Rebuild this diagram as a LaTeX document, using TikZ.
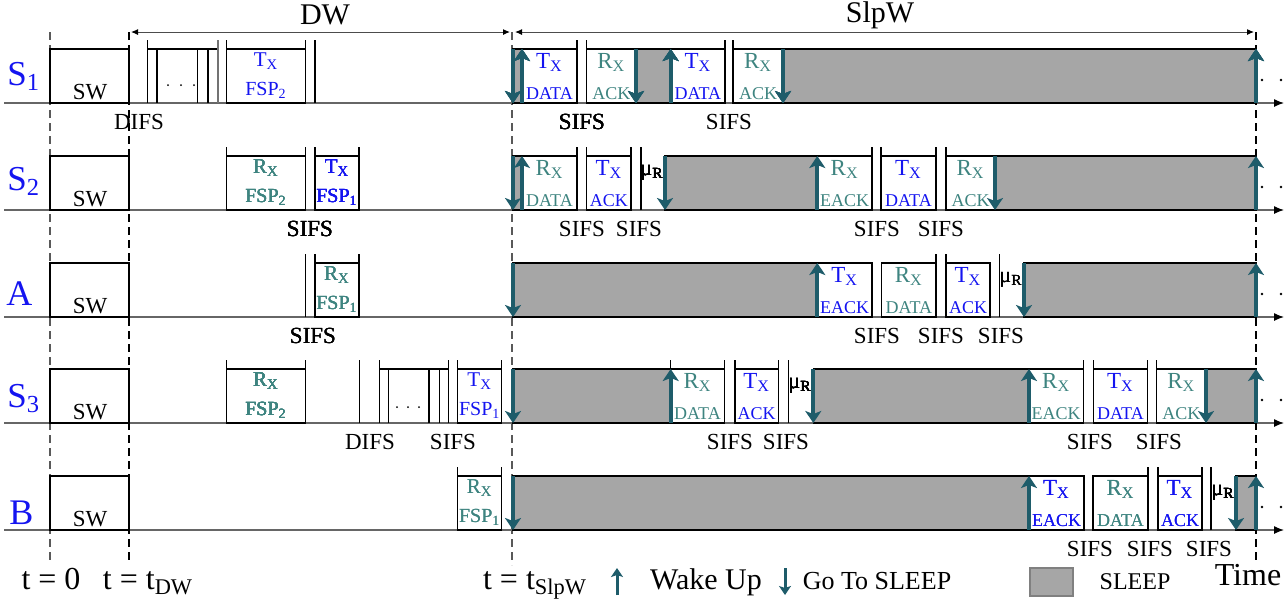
\documentclass[tikz,border=0pt]{standalone}
\usepackage{fontspec}
\setmainfont{Liberation Serif}
\usetikzlibrary{arrows.meta}

\definecolor{wakecol}{RGB}{30,92,106}
\definecolor{rxcol}{RGB}{62,132,128}
\definecolor{txcol}{RGB}{20,20,240}
\definecolor{slpcol}{RGB}{166,166,166}

\tikzset{
  box/.style={draw=black, line width=0.6pt},
  zzz/.style={fill=slpcol, draw=black, line width=0.6pt},
  tline/.style={draw=black, line width=0.6pt},
  axisline/.style={draw=black!60, line width=0.6pt, -{Latex[length=5pt,width=4pt,color=black]}},
  dimarr/.style={draw=black!70, line width=0.5pt, {Latex[length=3.5pt,width=3pt,color=black]}-{Latex[length=3.5pt,width=3pt,color=black]}},
  tmark/.style={dash pattern=on 4pt off 2.5pt, line width=0.6pt},
  wakeArr/.style={draw=wakecol, line width=2pt, -{Stealth[length=6pt,width=8pt,inset=1.5pt]}},
  legArr/.style={draw=wakecol, line width=1.5pt, -{Stealth[length=4.5pt,width=6pt,inset=1pt]}},
  rowlab/.style={text=txcol, font=\fontsize{17.5}{19}\selectfont, inner sep=0pt, anchor=base west},
  bigtxt/.style={font=\fontsize{15}{17}\selectfont, inner sep=0pt},
  swtxt/.style={font=\fontsize{11.5}{13}\selectfont, inner sep=0pt, anchor=base},
  lbl/.style={font=\fontsize{11.5}{13}\selectfont, inner sep=0pt, anchor=base},
  txtop/.style={text=txcol, font=\fontsize{11.5}{13}\selectfont, inner sep=0pt, anchor=base},
  rxtop/.style={text=rxcol, font=\fontsize{11.5}{13}\selectfont, inner sep=0pt, anchor=base},
  txbot/.style={text=txcol, font=\fontsize{9}{10}\selectfont, inner sep=0pt, anchor=base},
  rxbot/.style={text=rxcol, font=\fontsize{9}{10}\selectfont, inner sep=0pt, anchor=base},
  txfsp/.style={text=txcol, font=\fontsize{10}{11}\selectfont, inner sep=0pt, anchor=base},
  rxfsp/.style={text=rxcol, font=\fontsize{10}{11}\selectfont, inner sep=0pt, anchor=base},
  mutxt/.style={font=\fontsize{11}{12}\selectfont, inner sep=0pt, anchor=base},
  legtxt/.style={font=\fontsize{16}{18}\selectfont, inner sep=0pt, anchor=base},
  legsm/.style={font=\fontsize{13}{15}\selectfont, inner sep=0pt, anchor=base}
}

% packet in the sleep window: name, x1, x2, row, tx/rx, upper, lower
\newcommand{\pkt}[7]{%
  \draw[box] (#2,#4) rectangle (#3,#4-54);
  \node[#5top] (#1a) at ({(#2+#3)/2},#4-35) {#6};
  \node[#5bot] (#1b) at ({(#2+#3)/2},#4-4) {#7};}
% packet in the discovery window
\newcommand{\fsp}[7]{%
  \draw[box] (#2,#4) rectangle (#3,#4-54);
  \node[#5top, font=\fontsize{10.5}{12}\selectfont] (#1a) at ({(#2+#3)/2},#4-37) {#6};
  \node[#5fsp] (#1b) at ({(#2+#3)/2},#4-8) {#7};}
\newcommand{\zz}[3]{\draw[zzz] (#1,#3) rectangle (#2,#3-54);}
\newcommand{\wake}[2]{\draw[wakeArr] (#1,#2) -- (#1,#2-54);}
\newcommand{\gosleep}[2]{\draw[wakeArr] (#1,#2-54) -- (#1,#2);}
\newcommand{\tallbar}[2]{\draw[tline] (#1,#2) -- (#1,#2-63);}
\newcommand{\TX}{T\textsubscript{X}}
\newcommand{\RX}{R\textsubscript{X}}

\begin{document}
\begin{tikzpicture}[x=0.5pt,y=-0.5pt]
\useasboundingbox (0,0) rectangle (1286,602);

% windows
\draw[tmark, draw=black!65] (50,32) -- (50,562);
\draw[tmark] (129,32) -- (129,560);
\draw[tmark, draw=black!65] (512,32) -- (512,565);
\draw[tmark] (1256,32) -- (1256,560);
\draw[dimarr] (131,32) -- (510,32);
\draw[dimarr] (515,32) -- (1254,32);
\node[bigtxt] (dw) at (325,15) {DW};
\node[bigtxt] (slpw) at (880,15) {SlpW};

% time axes, sync window
\foreach \r/\n in {103/a,210/b,317/c,423/d,530/e} {
  \draw[axisline] (4,\r) -- (1284,\r);
  \draw[box] (50,\r) rectangle (129,\r-54);
  \node[swtxt] (sw\n) at (90,\r-4) {SW};
  \fill (1262,\r-23) circle[radius=0.7pt] (1281,\r-23) circle[radius=0.7pt];
}
\node[rowlab] (labS1) at (7,85) {S\textsubscript{1}};
\node[rowlab] (labS2) at (7,190) {S\textsubscript{2}};
\node[rowlab, font=\fontsize{18}{20}\selectfont] (labA) at (6,305) {A};
\node[rowlab] (labS3) at (7,407) {S\textsubscript{3}};
\node[rowlab, font=\fontsize{18}{20}\selectfont] (labB) at (9,524) {B};

%% S1
\draw[box] (147.7,49) -- (218,49);
\foreach \x in {157,197.7,208} \draw[box] (\x,49) -- (\x,103);
\foreach \x in {168,181,194} \fill (\x,85) circle[radius=0.5pt];
\foreach \x in {147.7,226.7,305.3,315} \tallbar{\x}{103}
\draw[tline, draw=black!55] (218,103) -- (218,40);
\fsp{fa}{226.7}{305.3}{103}{tx}{\TX}{FSP\textsubscript{2}}
\node[lbl] (difsA) at (139,129) {DIFS};
\zz{513}{522}{103} \zz{636}{670.7}{103} \zz{783}{1256}{103}
\pkt{pa}{522}{577}{103}{tx}{\TX}{DATA}
\pkt{pb}{586.7}{636}{103}{rx}{\RX}{ACK}
\pkt{pc}{670.7}{725}{103}{tx}{\TX}{DATA}
\pkt{pd}{733}{783}{103}{rx}{\RX}{ACK}
\foreach \x in {577,586.7,725,733} \tallbar{\x}{103}
\gosleep{513}{103} \wake{522}{103} \gosleep{636}{103}
\wake{670.7}{103} \gosleep{783}{103} \wake{1256}{103}
\node[lbl] (sifsA1) at (582,129) {SIFS};
\node[lbl] (sifsA2) at (729,129) {SIFS};

%% S2
\foreach \x in {226.7,305.3,315,359} \tallbar{\x}{210}
\fsp{fb}{226.7}{305.3}{210}{rx}{\RX}{FSP\textsubscript{2}}
\fsp{fc}{315}{359}{210}{tx}{\TX}{FSP\textsubscript{1}}
\node[lbl] (sifsB0) at (310,236) {SIFS};
\zz{513}{522}{210} \zz{665}{817.3}{210} \zz{995}{1256}{210}
\pkt{pe}{522}{577}{210}{rx}{\RX}{DATA}
\pkt{pf}{586.7}{631}{210}{tx}{\TX}{ACK}
\pkt{pg}{817.3}{872}{210}{rx}{\RX}{EACK}
\pkt{ph}{881}{936}{210}{tx}{\TX}{DATA}
\pkt{pi}{946}{995}{210}{rx}{\RX}{ACK}
\foreach \x in {577,586.7,631,641,872,881,936,946} \tallbar{\x}{210}
\node[mutxt] (muB) at (652,175) {μ\textsubscript{R}};
\gosleep{513}{210} \wake{522}{210} \gosleep{665}{210}
\wake{817.3}{210} \gosleep{995}{210} \wake{1256}{210}
\node[lbl] (sifsB1) at (582,236) {SIFS};
\node[lbl] (sifsB2) at (639,236) {SIFS};
\node[lbl] (sifsB3) at (877,236) {SIFS};
\node[lbl] (sifsB4) at (941,236) {SIFS};

%% A
\foreach \x in {305.3,315,359} \tallbar{\x}{317}
\fsp{fd}{315}{359}{317}{rx}{\RX}{FSP\textsubscript{1}}
\node[lbl] (sifsC0) at (313,343) {SIFS};
\zz{513}{817.3}{317} \zz{1024}{1256}{317}
\pkt{pj}{817.3}{872}{317}{tx}{\TX}{EACK}
\pkt{pk}{881.7}{936}{317}{rx}{\RX}{DATA}
\pkt{pl}{946}{990}{317}{tx}{\TX}{ACK}
\foreach \x in {936,946,999.3} \tallbar{\x}{317}
\node[mutxt] (muC) at (1011,282) {μ\textsubscript{R}};
\gosleep{513}{317} \wake{817.3}{317} \gosleep{1024}{317} \wake{1256}{317}
\node[lbl] (sifsC1) at (877,343) {SIFS};
\node[lbl] (sifsC2) at (941,343) {SIFS};
\node[lbl] (sifsC3) at (1001,343) {SIFS};

%% S3
\foreach \x in {226.7,305.3,359.3,379.3,448.3,457.7,501.7} \tallbar{\x}{423}
\fsp{fe}{226.7}{305.3}{423}{rx}{\RX}{FSP\textsubscript{2}}
\draw[box] (379.3,369) -- (448.3,369);
\foreach \x in {388.3,429,439.3} \draw[box] (\x,369) -- (\x,423);
\foreach \x in {397,408,419} \fill (\x,407) circle[radius=0.5pt];
\fsp{ff}{457.7}{501.7}{423}{tx}{\TX}{FSP\textsubscript{1}}
\node[lbl] (difsD) at (370,449) {DIFS};
\node[lbl] (sifsD0) at (453,449) {SIFS};
\zz{513}{670.7}{423} \zz{813.3}{1029}{423} \zz{1206}{1256}{423}
\pkt{pm}{670.7}{724.3}{423}{rx}{\RX}{DATA}
\pkt{pn}{735}{778.3}{423}{tx}{\TX}{ACK}
\pkt{po}{1029}{1083.3}{423}{rx}{\RX}{EACK}
\pkt{pp}{1093.3}{1147.7}{423}{tx}{\TX}{DATA}
\pkt{pq}{1156.7}{1206}{423}{rx}{\RX}{ACK}
\foreach \x in {670.7,724.3,735,778.3,788.3,1083.3,1093.3,1147.7,1156.7} \tallbar{\x}{423}
\node[mutxt] (muD) at (800,388) {μ\textsubscript{R}};
\gosleep{513}{423} \wake{670.7}{423} \gosleep{813.3}{423}
\wake{1029}{423} \gosleep{1206}{423} \wake{1256}{423}
\node[lbl] (sifsD1) at (730,449) {SIFS};
\node[lbl] (sifsD2) at (786,449) {SIFS};
\node[lbl] (sifsD3) at (1090,449) {SIFS};
\node[lbl] (sifsD4) at (1159,449) {SIFS};

%% B
\foreach \x in {457.7,501.7} \tallbar{\x}{530}
\fsp{fg}{457.7}{501.7}{530}{rx}{\RX}{FSP\textsubscript{1}}
\zz{513}{1029}{530} \zz{1236}{1256}{530}
\pkt{pr}{1029}{1084}{530}{tx}{\TX}{EACK}
\pkt{ps}{1093}{1148}{530}{rx}{\RX}{DATA}
\pkt{pt}{1158}{1202}{530}{tx}{\TX}{ACK}
\foreach \x in {1148,1158,1202,1211} \tallbar{\x}{530}
\node[mutxt] (muE) at (1223,495) {μ\textsubscript{R}};
\gosleep{513}{530} \wake{1029}{530} \gosleep{1236}{530} \wake{1256}{530}
\node[lbl] (sifsE1) at (1090,556) {SIFS};
\node[lbl] (sifsE2) at (1150,556) {SIFS};
\node[lbl] (sifsE3) at (1209,556) {SIFS};

% legend
\node[legtxt] (t0) at (51,589) {t = 0};
\node[legtxt] (tdw) at (148,589) {t = t\textsubscript{DW}};
\node[legtxt] (tslp) at (535,589) {t = t\textsubscript{SlpW}};
\draw[legArr] (617,595) -- (617,568);
\node[legtxt, font=\fontsize{15}{17}\selectfont] (wk) at (706,589) {Wake Up};
\draw[legArr] (785,568) -- (785,595);
\node[legsm] (gts) at (877,589) {Go To SLEEP};
\draw[zzz, draw=black!50] (1030,568) rectangle (1073,596);
\node[legsm, font=\fontsize{12}{14}\selectfont] (slp) at (1135,589) {SLEEP};
\node[legtxt] (tm) at (1248,585) {Time};
\end{tikzpicture}
\end{document}
